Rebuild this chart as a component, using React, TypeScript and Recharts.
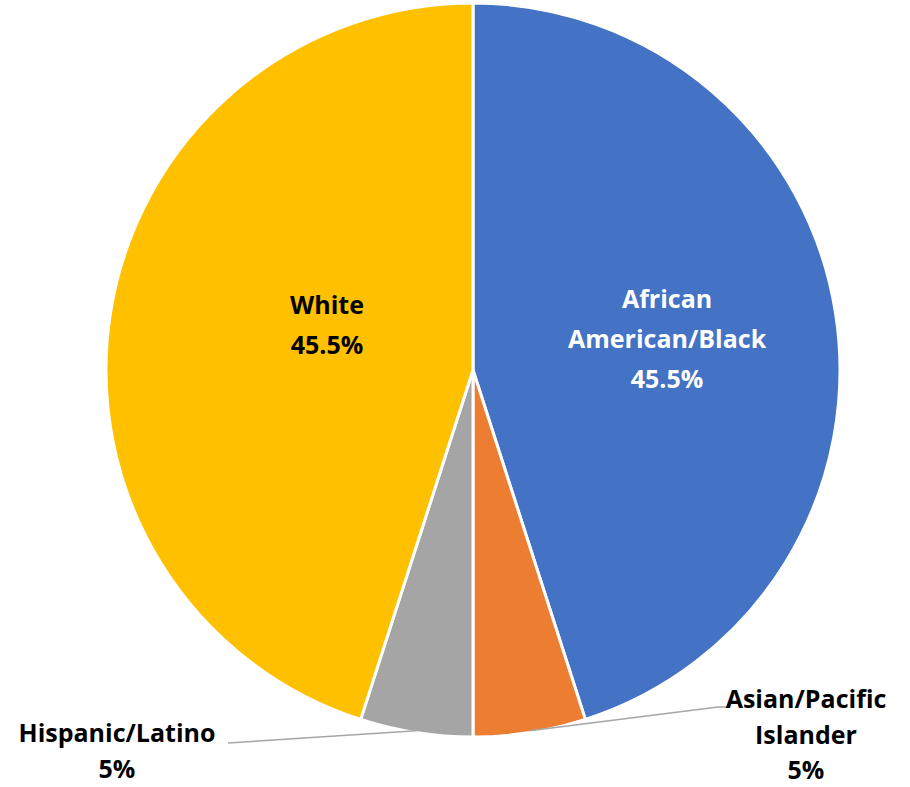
import { PieChart, Pie, Cell } from "recharts";

const groups = ["African American/Black", "Asian/Pacific Islander", "Hispanic/Latino", "White"];
const shares = [45.5, 5, 5, 45.5];
const shareLabels = ["45.5%", "5%", "5%", "45.5%"];
const colors = ["#4472C4", "#ED7D31", "#A5A5A5", "#FFC000"];

// label text split into lines, as the original wraps them
const labelLines = [["African", "American/Black"], ["Asian/Pacific", "Islander"], ["Hispanic/Latino"], ["White"]];

const data = groups.map((name, i) => ({ name, value: shares[i], pct: shareLabels[i], lines: labelLines[i] }));

const RAD = Math.PI / 180;
const FONT = "'Open Sans', 'Noto Sans', sans-serif";
const FS = 25;

function renderLabel(props: any) {
  const { cx, cy, midAngle, outerRadius, index } = props;
  const lines: string[] = [...data[index].lines, data[index].pct];
  const cos = Math.cos(-midAngle * RAD);
  const sin = Math.sin(-midAngle * RAD);

  if (index === 0 || index === 3) {
    // inside labels for the two large slices
    const r = index === 0 ? outerRadius * 0.536 : outerRadius * 0.417;
    const shift = index === 0 ? 0.5 : -8.6;
    const a = -(midAngle + shift) * RAD;
    const x = cx + r * Math.cos(a);
    const y = cy + r * Math.sin(a);
    const lh = 40;
    const top = y - ((lines.length - 1) * lh) / 2;
    return (
      <text x={x} textAnchor="middle" fill={index === 0 ? "#fff" : "#000"} fontFamily={FONT} fontWeight={700} fontSize={FS}>
        {lines.map((l, k) => (
          <tspan key={k} x={x} y={top + k * lh} dominantBaseline="central">{l}</tspan>
        ))}
      </text>
    );
  }

  // outside labels with leader lines for the small slices
  const sx = cx + outerRadius * cos * 0.995;
  const sy = cy + outerRadius * sin * 0.995;
  const right = index === 1;
  const ex = right ? cx + 245 : cx - 245;
  const ey = right ? cy + 337 : cy + 373;
  const hx = right ? ex + 9 : ex;
  const tx = right ? cx + 333 : cx - 356;
  const top = right ? cy + 328 : cy + 362;
  const lh = right ? 35.5 : 36;
  return (
    <g>
      <polyline points={`${sx},${sy} ${ex},${ey} ${hx},${ey}`} fill="none" stroke="#A6A6A6" strokeWidth={1.5} />
      <text x={tx} textAnchor="middle" fill="#000" fontFamily={FONT} fontWeight={700} fontSize={FS}>
        {lines.map((l, k) => (
          <tspan key={k} x={tx} y={top + k * lh} dominantBaseline="central">{l}</tspan>
        ))}
      </text>
    </g>
  );
}

export default function App() {
  return (
    <div style={{ position: "absolute", left: 0, top: 0, background: "#fff" }}>
      <PieChart width={910} height={787} margin={{ top: 0, right: 0, bottom: 0, left: 0 }}>
        <Pie
          data={data}
          dataKey="value"
          nameKey="name"
          cx={473}
          cy={370}
          outerRadius={367}
          startAngle={90}
          endAngle={-270}
          stroke="#fff"
          strokeWidth={3}
          label={renderLabel}
          labelLine={false}
          isAnimationActive={false}
        >
          {data.map((d, i) => (
            <Cell key={d.name} fill={colors[i]} />
          ))}
        </Pie>
      </PieChart>
    </div>
  );
}
